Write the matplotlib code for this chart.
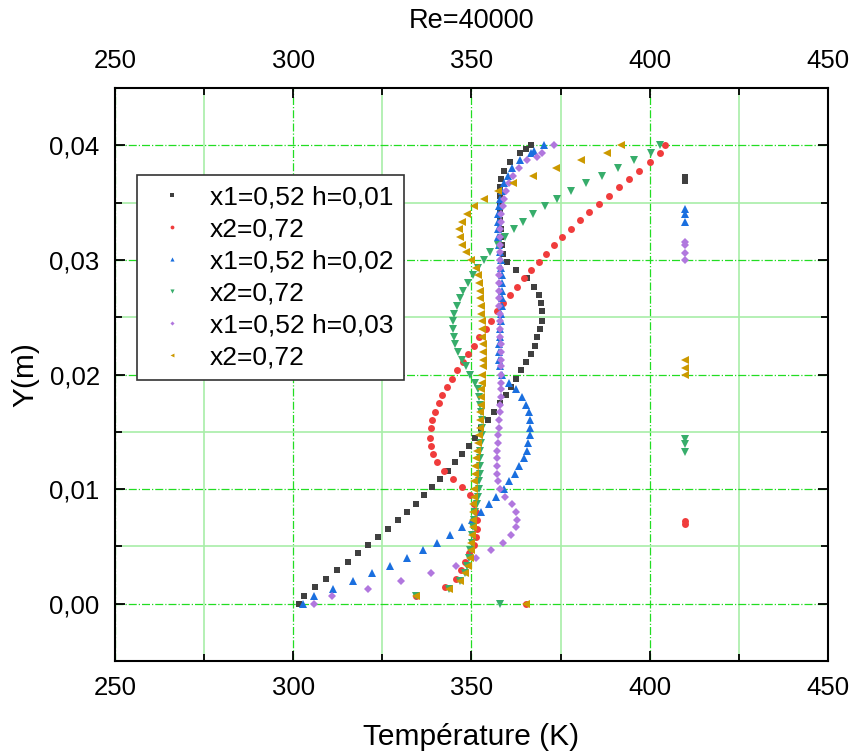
import matplotlib
matplotlib.use('Agg')
import matplotlib.pyplot as plt
from matplotlib.ticker import MultipleLocator, FuncFormatter

plt.rcParams['font.family'] = ['Liberation Sans', 'DejaVu Sans']

# mesh positions (m) : h=0,01 case has 56 nodes, the two other cases 61 nodes
y_h1 = [0.0000, 0.0007, 0.0015, 0.0022, 0.0029, 0.0036, 0.0044, 0.0051, 0.0058, 0.0065,
        0.0073, 0.0080, 0.0087, 0.0095, 0.0102, 0.0109, 0.0116, 0.0124, 0.0131, 0.0138,
        0.0145, 0.0153, 0.0160, 0.0167, 0.0175, 0.0182, 0.0189, 0.0196, 0.0204, 0.0211,
        0.0218, 0.0225, 0.0233, 0.0240, 0.0247, 0.0255, 0.0262, 0.0269, 0.0276, 0.0284,
        0.0291, 0.0298, 0.0305, 0.0313, 0.0320, 0.0327, 0.0335, 0.0342, 0.0349, 0.0356,
        0.0364, 0.0371, 0.0378, 0.0385, 0.0393, 0.0400]
y_h2 = [0.0000, 0.0007, 0.0013, 0.0020, 0.0027, 0.0033, 0.0040, 0.0047, 0.0053, 0.0060,
        0.0067, 0.0073, 0.0080, 0.0087, 0.0093, 0.0100, 0.0107, 0.0113, 0.0120, 0.0127,
        0.0133, 0.0140, 0.0147, 0.0153, 0.0160, 0.0167, 0.0173, 0.0180, 0.0187, 0.0193,
        0.0200, 0.0207, 0.0213, 0.0220, 0.0227, 0.0233, 0.0240, 0.0247, 0.0253, 0.0260,
        0.0267, 0.0273, 0.0280, 0.0287, 0.0293, 0.0300, 0.0307, 0.0313, 0.0320, 0.0327,
        0.0333, 0.0340, 0.0347, 0.0353, 0.0360, 0.0367, 0.0373, 0.0380, 0.0387, 0.0393,
        0.0400]

# temperatures (K)
T_h1_x1 = [301.6, 303.0, 306.1, 309.2, 312.3, 315.3, 318.2, 321.1, 323.9, 326.6,
           329.3, 331.8, 334.3, 336.8, 339.0, 341.3, 343.4, 345.3, 347.3, 349.2,
           351.0, 352.8, 354.5, 356.2, 357.9, 359.6, 361.1, 362.6, 364.0, 365.4,
           366.6, 367.7, 368.5, 369.2, 369.7, 369.8, 369.6, 368.8, 367.5, 365.5,
           362.4, 359.9, 358.7, 358.6, 358.4, 358.3, 358.1, 358.0, 358.0, 358.0,
           358.1, 358.4, 359.2, 360.9, 363.7, 366.7]
T_h1_x2 = [365.2, 334.4, 342.7, 345.6, 347.0, 348.3, 349.3, 350.6, 351.2, 351.6,
           351.6, 351.4, 350.8, 349.7, 347.3, 344.7, 342.3, 340.4, 339.2, 338.6,
           338.4, 338.6, 339.0, 339.8, 340.8, 341.8, 343.1, 344.5, 346.0, 347.5,
           349.1, 350.6, 352.2, 354.0, 355.5, 357.1, 358.8, 360.9, 362.8, 364.7,
           366.7, 368.8, 370.9, 373.1, 375.5, 377.9, 380.4, 383.0, 385.7, 388.5,
           391.3, 394.1, 397.1, 400.0, 402.8, 404.3]
T_h2_x1 = [302.8, 305.7, 311.2, 316.8, 322.2, 327.2, 332.0, 336.5, 340.4, 344.1,
           347.3, 350.1, 352.7, 355.0, 357.0, 359.0, 360.6, 362.1, 363.4, 364.6,
           365.5, 365.9, 366.3, 366.5, 366.3, 366.0, 365.2, 364.1, 362.5, 360.4,
           358.6, 357.9, 357.8, 357.8, 357.8, 357.9, 358.0, 358.2, 358.4, 358.5,
           358.5, 358.6, 358.6, 358.6, 358.4, 358.2, 357.9, 357.6, 357.3, 357.3,
           357.4, 357.5, 357.8, 358.1, 358.6, 359.2, 360.2, 361.5, 363.6, 366.8,
           370.2]
T_h2_x2 = [358.1, 334.4, 343.7, 346.8, 348.1, 348.8, 349.4, 349.7, 350.1, 350.2,
           350.3, 350.7, 351.0, 351.5, 351.7, 352.0, 352.2, 352.4, 352.4, 352.5,
           352.5, 352.8, 353.0, 353.0, 352.9, 352.7, 352.4, 352.0, 351.7, 350.9,
           349.6, 348.4, 347.2, 346.2, 345.5, 345.0, 344.8, 344.9, 345.1, 345.8,
           346.8, 347.7, 348.9, 350.3, 351.7, 353.4, 355.3, 357.3, 359.5, 361.8,
           364.4, 367.3, 370.6, 374.1, 377.8, 382.1, 386.5, 391.0, 395.7, 400.4,
           402.9]
T_h3_x1 = [305.8, 310.9, 320.9, 330.3, 338.6, 345.6, 351.2, 355.5, 358.7, 361.0,
           362.4, 362.9, 362.5, 361.4, 359.5, 358.0, 357.5, 357.1, 357.1, 357.1,
           357.2, 357.4, 357.5, 357.6, 357.7, 358.0, 358.1, 358.2, 358.3, 358.3,
           358.3, 358.3, 358.2, 358.2, 358.2, 358.1, 358.1, 358.0, 357.9, 357.8,
           357.7, 357.7, 357.7, 357.8, 357.9, 357.9, 357.9, 357.9, 358.0, 358.1,
           358.3, 358.4, 358.7, 359.1, 359.7, 360.4, 361.6, 363.2, 365.6, 369.7,
           373.1]
T_h3_x2 = [365.2, 334.4, 343.7, 346.8, 348.2, 349.1, 349.6, 349.9, 350.0, 350.1,
           350.3, 350.4, 350.5, 350.5, 350.6, 350.7, 350.8, 351.0, 351.1, 351.3,
           351.5, 351.8, 352.1, 352.3, 352.4, 352.5, 352.6, 352.6, 352.8, 353.0,
           353.0, 353.1, 353.1, 353.1, 353.1, 353.0, 352.9, 352.9, 352.8, 352.6,
           352.4, 352.3, 352.1, 351.7, 351.3, 350.0, 348.5, 347.3, 346.7, 346.6,
           347.2, 348.6, 350.8, 353.6, 357.4, 361.6, 367.3, 373.7, 380.8, 388.1,
           391.9]

# stray points at the end of each exported column
extra_T = {
    'h1_x1': [365.2, 410, 410],
    'h1_x2': [410, 410],
    'h2_x1': [367.5, 410, 410, 410],
    'h2_x2': [410, 410, 410],
    'h3_x1': [368.3, 410, 410, 410, 410],
    'h3_x2': [410, 410, 410],
}
extra_y = {
    'h1_x1': [0.0397, 0.0372, 0.0369],
    'h1_x2': [0.0072, 0.0070],
    'h2_x1': [0.0395, 0.0344, 0.0340, 0.0333],
    'h2_x2': [0.0144, 0.0139, 0.0132],
    'h3_x1': [0.0390, 0.0316, 0.0313, 0.0306, 0.0300],
    'h3_x2': [0.0213, 0.0206, 0.0200],
}

labels = ['x1=0,52 h=0,01', 'x2=0,72', 'x1=0,52 h=0,02',
          'x2=0,72', 'x1=0,52 h=0,03', 'x2=0,72']
keys = ['h1_x1', 'h1_x2', 'h2_x1', 'h2_x2', 'h3_x1', 'h3_x2']
temps = [T_h1_x1, T_h1_x2, T_h2_x1, T_h2_x2, T_h3_x1, T_h3_x2]
ys = [y_h1, y_h1, y_h2, y_h2, y_h2, y_h2]
colors = ['#404040', '#F03C3C', '#1A6FDF', '#37AD6B', '#B177DE', '#CC9900']
markers = ['s', 'o', '^', 'v', 'D', '<']
msizes = [4.6, 5.0, 5.4, 5.4, 3.8, 5.1]

fig = plt.figure(figsize=(8.5, 7.54), dpi=100)
ax = fig.add_axes([0.1353, 0.1233, 0.8388, 0.7600])

for k, T, y, c, m, ms, lab in zip(keys, temps, ys, colors, markers, msizes, labels):
    ax.plot(T + extra_T[k], y + extra_y[k], linestyle='none', marker=m,
            markersize=ms, color=c, markeredgewidth=0, label=lab, zorder=3)

ax.set_xlim(250, 450)
ax.set_ylim(-0.005, 0.045)
ax.xaxis.set_major_locator(MultipleLocator(50))
ax.xaxis.set_minor_locator(MultipleLocator(25))
ax.yaxis.set_major_locator(MultipleLocator(0.01))
ax.yaxis.set_minor_locator(MultipleLocator(0.005))
ax.yaxis.set_major_formatter(FuncFormatter(lambda v, p: f'{v:.2f}'.replace('.', ',')))

ax.grid(which='major', color='#22DD22', linestyle='-.', linewidth=0.9)
ax.grid(which='minor', color='#A8EEA8', linestyle='-', linewidth=1.2)
ax.set_axisbelow(True)

ax.tick_params(which='both', direction='in', top=True, right=True,
               labeltop=True, width=1.3, labelsize=18.5, pad=11)
ax.tick_params(which='major', length=7)
ax.tick_params(which='minor', length=5)
for s in ax.spines.values():
    s.set_linewidth(1.5)

ax.set_xlabel('Température (K)', fontsize=21.5, labelpad=16)
ax.set_ylabel('Y(m)', fontsize=21.5, labelpad=7)
ax.set_title('Re=40000', fontsize=19.5, pad=15)

leg = ax.legend(loc='upper left', bbox_to_anchor=(0.031, 0.848), borderaxespad=0,
                fontsize=19, markerscale=0.55, handlelength=1.85, handletextpad=0.5,
                labelspacing=0.3, borderpad=0.4, fancybox=False,
                framealpha=1, edgecolor='#333333')
leg.get_frame().set_linewidth(1.2)

fig.savefig('out.png', dpi=100)
